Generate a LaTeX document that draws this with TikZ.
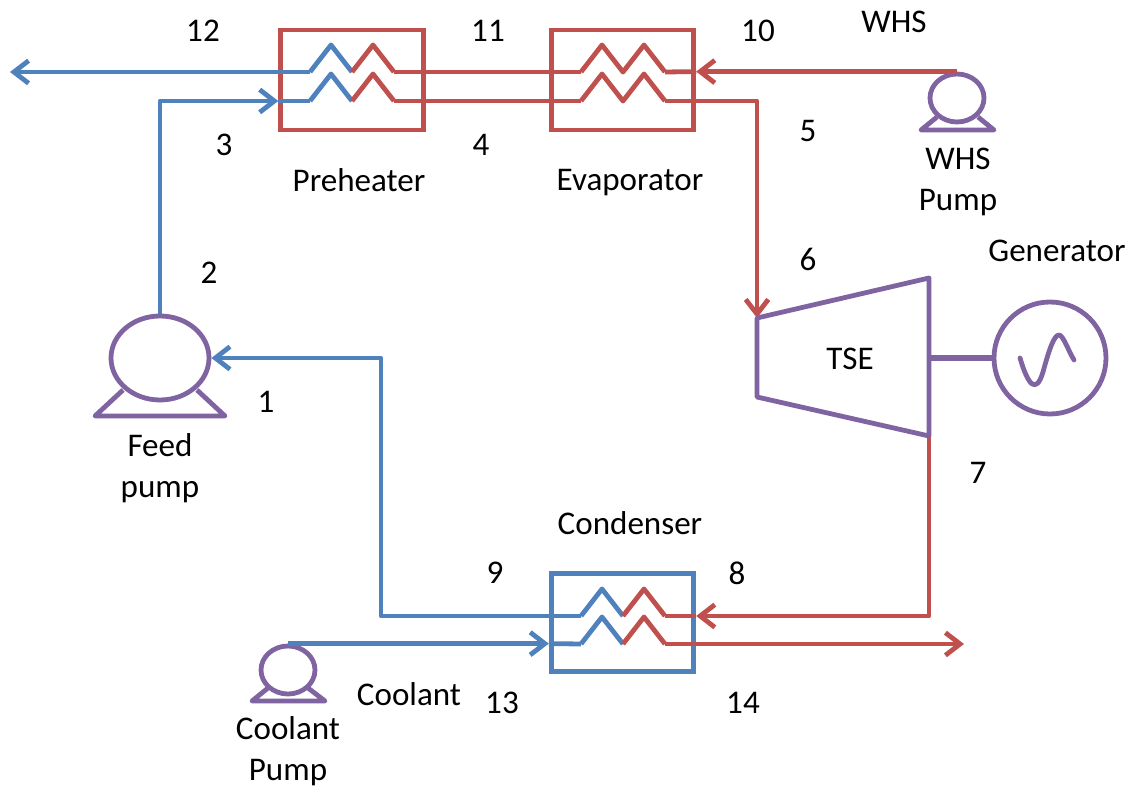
\documentclass[tikz,border=0pt]{standalone}
\usepackage{fontspec}
\setmainfont{Carlito}
\usetikzlibrary{arrows.meta,shapes.geometric}
\definecolor{pipeblue}{HTML}{4F81BD}
\definecolor{pipered}{HTML}{C0504D}
\definecolor{partviolet}{HTML}{8064A2}
\begin{document}
\begin{tikzpicture}[
	x=0.75pt,y=-0.75pt,
	bluepipe/.style={draw=pipeblue,line width=3.6pt,line join=round},
	redpipe/.style={draw=pipered,line width=3.6pt,line join=round},
	flowtip/.style={-{Straight Barb[length=11pt,width=17pt,line width=3.6pt]}},
	exchanger/.style={rectangle,line width=3.6pt,minimum width=107pt,inner sep=0pt},
	pumpbody/.style={ellipse,draw=partviolet,line width=3.6pt,inner sep=0pt},
	partline/.style={draw=partviolet,line width=3.6pt,line join=round},
	label/.style={font=\fontsize{24.8}{30.7}\selectfont,align=center,inner sep=0pt}
]
\useasboundingbox (0,0) rectangle (1139,787);

% Apparate
\node[exchanger,draw=pipered,minimum height=75pt] (preheater) at (352,80) {};
\node[exchanger,draw=pipered,minimum height=75pt] (evaporator) at (622.5,80) {};
\node[exchanger,draw=pipeblue,minimum height=74pt] (condenser) at (622.5,622.5) {};

\node[pumpbody,minimum width=73.5pt,minimum height=63pt] (feedpump) at (160,358) {};
\node[pumpbody,minimum width=40.5pt,minimum height=36pt] (whspump) at (957,98) {};
\node[pumpbody,minimum width=40.5pt,minimum height=36pt] (coolantpump) at (288,670) {};

\coordinate (tseA) at (757,318);
\coordinate (tseB) at (929,278);
\coordinate (tseC) at (929,436);
\coordinate (tseD) at (757,397);
\node[circle,draw=partviolet,line width=3.6pt,minimum size=84pt,inner sep=0pt] (generator) at (1050,358) {};
\node[label] (tse) at (850,359) {TSE};

% Leitungen
\coordinate (outA) at (10,72);
\coordinate (outB) at (964,644);
\coordinate (feedin) at (160,101);
\coordinate (tsein) at (757,101);
\coordinate (backA) at (381,358);
\coordinate (backB) at (381,616);
\coordinate (backC) at (929,616);

\draw[bluepipe,flowtip] (310,72) -- (outA);
\draw[bluepipe,flowtip] (feedpump.north) -- (feedin) -- (preheater.west |- feedin);
\draw[bluepipe] (preheater.west |- feedin) -- (310,101);
\draw[redpipe,flowtip] (whspump.north) -- (evaporator.east |- whspump.north);
\draw[redpipe] (evaporator.east |- whspump.north) -- (665,72);
\draw[redpipe] (394,72) -- (581,72);
\draw[redpipe] (394,101) -- (581,101);
\draw[redpipe,flowtip] (665,101) -- (tsein) -- (tseA);
\draw[bluepipe,flowtip] (581,616) -- (backB) -- (backA) -- (feedpump.east);
\draw[redpipe,flowtip] (tseC) -- (backC) -- (condenser.east |- backC);
\draw[redpipe] (condenser.east |- backC) -- (665,616);
\draw[bluepipe,flowtip] (coolantpump.north) -- (condenser.west |- coolantpump.north);
\draw[bluepipe] (condenser.west |- coolantpump.north) -- (581,644);
\draw[redpipe,flowtip] (665,644) -- (outB);

% Schlangen
\foreach \y in {72,101} {
	\draw[bluepipe] (310,\y) -- (331,\y-27) -- (352,\y);
	\draw[redpipe] (352,\y) -- (373,\y-27) -- (394,\y);
	\draw[redpipe] (581,\y) -- (602,\y-27) -- (623,\y) -- (644,\y-27) -- (665,\y);
}
\foreach \y in {616,644} {
	\draw[bluepipe] (581,\y) -- (602,\y-27) -- (623,\y);
	\draw[redpipe] (623,\y) -- (644,\y-27) -- (665,\y);
}

% Turbine und Generator
\draw[partline] (tseA) -- (tseB) -- (tseC) -- (tseD) -- cycle;
\draw[draw=partviolet,line width=4.5pt] (929,358) -- (generator.west);
\draw[partline,line cap=round] (1020,358) .. controls (1028,385) and (1036,395) .. (1043,372) .. controls (1049,350) and (1054,335) .. (1059,335) .. controls (1063,335) and (1068,350) .. (1074,360);

% Pumpenfuesse
\draw[partline] (123,390) -- (95,416) -- (225,416) -- (197,390);
\draw[partline] (937,117) -- (921,130) -- (994,130) -- (978,117);
\draw[partline] (268,688) -- (252,701) -- (325,701) -- (308,688);

% Beschriftung
\node[label] (n12) at (203,31) {12};
\node[label] (n11) at (488,31) {11};
\node[label] (n10) at (758,31) {10};
\node[label] (whs) at (894,22) {WHS};
\node[label] (n3) at (224,145) {3};
\node[label] (n4) at (481,145) {4};
\node[label] (n5) at (808,131) {5};
\node[label] (n2) at (209,273) {2};
\node[label] (n6) at (808,259) {6};
\node[label] (n1) at (266,402) {1};
\node[label] (n7) at (978,473) {7};
\node[label] (n9) at (495,573) {9};
\node[label] (n8) at (737,573) {8};
\node[label] (n13) at (502,703) {13};
\node[label] (n14) at (743,703) {14};
\node[label] (lpreheater) at (359,180) {Preheater};
\node[label] (levaporator) at (630,183) {Evaporator};
\node[label] (lcondenser) at (630,523) {Condenser};
\node[label] (lgenerator) at (1057,251) {Generator};
\node[label] (lcoolant) at (409,694) {Coolant};
\node[label] (lwhs) at (958,182) {WHS\\Pump};
\node[label] (lfeed) at (160,468) {Feed\\pump};
\node[label] (lcoolantpump) at (288,751) {Coolant\\Pump};

\end{tikzpicture}
\end{document}
